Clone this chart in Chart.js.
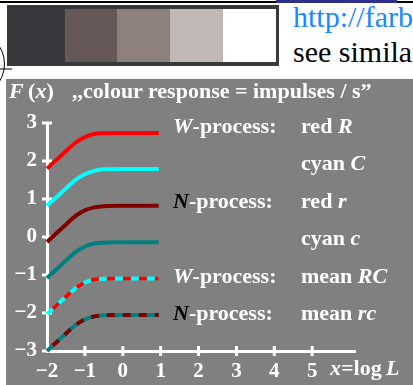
<!DOCTYPE html>
<html>
<head>
<meta charset="utf-8">
<script src="https://cdn.jsdelivr.net/npm/chart.js@4"></script>
<style>
  body { margin: 0; width: 413px; height: 385px; overflow: hidden; background: #fff; position: relative; font-family: "Liberation Serif", "DejaVu Serif", serif; }
  .abs { position: absolute; }
  #panel { left: 6px; top: 79px; width: 407px; height: 306px; background: #808080; }
  #chart { left: 0; top: 0; }
  .lbl { position: absolute; color: #fff; font-weight: bold; font-size: 22px; line-height: 22px; white-space: nowrap; }
  .blk { color: #000; }
</style>
</head>
<body>
<!-- top rules -->
<div class="abs" style="left:0;top:1px;width:413px;height:2px;background:#000"></div>
<div class="abs" style="left:276px;top:0;width:121px;height:3px;background:#2e2e8c"></div>

<!-- grey swatch strip -->
<div class="abs" style="left:7px;top:5px;width:272px;height:61px;background:#39383d"></div>
<div class="abs" style="left:65px;top:9px;width:52px;height:53px;background:#655856"></div>
<div class="abs" style="left:117px;top:9px;width:53px;height:53px;background:#8d807c"></div>
<div class="abs" style="left:170px;top:9px;width:53px;height:53px;background:#c1b8b5"></div>
<div class="abs" style="left:223px;top:9px;width:53px;height:53px;background:#ffffff"></div>

<div class="abs" style="left:293px;top:2px;font-size:30px;line-height:30px;color:#1a88ff;white-space:nowrap">http://farbe.li.tu-berlin.de</div>
<div class="abs" style="left:293px;top:37px;font-size:30px;line-height:30px;color:#000;white-space:nowrap">see similar files</div>

<svg class="abs" style="left:0;top:40px" width="20" height="50">
  <circle cx="-29" cy="24" r="33.5" fill="none" stroke="#000" stroke-width="1"/>
  <line x1="0" y1="29" x2="12" y2="29" stroke="#000" stroke-width="1"/>
</svg>

<div id="panel" class="abs"></div>
<canvas id="chart" class="abs" width="413" height="385"></canvas>

<div class="lbl" style="left:9px;top:79.6px"><i>F</i>&thinsp;(<i>x</i>)</div>
<div class="lbl" style="left:72px;top:79.6px">,,colour response = impulses / s”</div>

<div class="lbl" style="left:173px;top:114.6px"><i>W</i>-process:</div>
<div class="lbl" style="left:301px;top:114.6px">red <i>R</i></div>
<div class="lbl" style="left:301px;top:152px">cyan <i>C</i></div>
<div class="lbl" style="left:173px;top:189.6px"><i class="blk">N</i>-process:</div>
<div class="lbl" style="left:301px;top:189.6px">red <i>r</i></div>
<div class="lbl" style="left:301px;top:227px">cyan <i>c</i></div>
<div class="lbl" style="left:173px;top:264.6px"><i>W</i>-process:</div>
<div class="lbl" style="left:301px;top:264.6px">mean <i>RC</i></div>
<div class="lbl" style="left:173px;top:302px"><i class="blk">N</i>-process:</div>
<div class="lbl" style="left:301px;top:302px">mean <i>rc</i></div>

<div class="lbl" style="left:330px;top:356.6px"><i>x</i>=log&thinsp;<i>L</i></div>

<script>
// x = log L, sample positions
const xValues = [-2, -1.75, -1.5, -1.25, -1, -0.75, -0.5, 0, 0.5, 0.95];

// F(x) for each process
const redR   = [1.80, 2.03, 2.26, 2.48, 2.63, 2.71, 2.73, 2.74, 2.74, 2.74];
const cyanC  = [0.82, 1.05, 1.28, 1.50, 1.65, 1.74, 1.78, 1.79, 1.79, 1.79];
const redr   = [-0.13, 0.10, 0.33, 0.55, 0.70, 0.78, 0.81, 0.82, 0.82, 0.82];
const cyanc  = [-1.08, -0.85, -0.62, -0.40, -0.25, -0.17, -0.15, -0.14, -0.14, -0.14];
const meanRC = [-2.03, -1.80, -1.57, -1.35, -1.20, -1.12, -1.10, -1.09, -1.09, -1.09];
const meanrc = [-3.00, -2.77, -2.54, -2.32, -2.17, -2.09, -2.06, -2.05, -2.05, -2.05];

const xTicks = [-2, -1, 0, 1, 2, 3, 4, 5];
const yTicks = [-3, -2, -1, 0, 1, 2, 3];

function pts(vals) {
    return xValues.map((x, i) => ({ x: x, y: vals[i] }));
}

function line(vals, color, dash) {
    return {
        data: pts(vals),
        borderColor: color,
        borderWidth: 4,
        borderDash: dash ? [8, 8] : [],
        borderDashOffset: dash ? 8 : 0,
        pointRadius: 0,
        cubicInterpolationMode: 'monotone',
        fill: false,
        clip: false
    };
}

// white cross ticks on both axes
const crossTicks = {
    id: 'crossTicks',
    beforeDatasetsDraw(chart) {
        const { ctx, scales: { x, y } } = chart;
        const ax = x.getPixelForValue(-2);
        const ay = y.getPixelForValue(-3);
        ctx.save();
        ctx.strokeStyle = '#fff';
        ctx.lineWidth = 3;
        yTicks.forEach(v => {
            const py = y.getPixelForValue(v);
            ctx.beginPath();
            ctx.moveTo(ax - 5, py);
            ctx.lineTo(ax + 5, py);
            ctx.stroke();
        });
        xTicks.slice(1).forEach(v => {
            const px = x.getPixelForValue(v);
            ctx.beginPath();
            ctx.moveTo(px, ay - 5);
            ctx.lineTo(px, ay + 5);
            ctx.stroke();
        });
        ctx.restore();
    }
};

const tickFont = { family: '"Liberation Serif", serif', size: 21, weight: 'bold' };
const minus = v => String(v).replace('-', '\u2212');

new Chart(document.getElementById('chart').getContext('2d'), {
    type: 'line',
    data: {
        datasets: [
            line(meanrc, '#800000', true),
            line(meanrc, '#008080', false),
            line(meanRC, '#ff0000', true),
            line(meanRC, '#00ffff', false),
            line(redR, '#ff0000', false),
            line(cyanC, '#00ffff', false),
            line(redr, '#800000', false),
            line(cyanc, '#008080', false)
        ]
    },
    options: {
        responsive: false,
        animation: false,
        layout: { padding: { left: 0, top: 123, right: 58, bottom: 0 } },
        plugins: { legend: { display: false }, tooltip: { enabled: false } },
        scales: {
            x: {
                type: 'linear',
                min: -2,
                max: 6.13,
                afterBuildTicks: s => { s.ticks = xTicks.map(v => ({ value: v })); },
                afterFit: s => { s.height = 34; },
                ticks: { color: '#fff', font: tickFont, padding: 8, maxRotation: 0, autoSkip: false, callback: minus },
                grid: { display: false, drawTicks: false },
                border: { color: '#fff', width: 3 }
            },
            y: {
                min: -3,
                max: 3,
                afterBuildTicks: s => { s.ticks = yTicks.map(v => ({ value: v })); },
                afterFit: s => { s.width = 47; },
                ticks: { color: '#fff', font: tickFont, padding: 10, callback: minus },
                grid: { display: false, drawTicks: false },
                border: { color: '#fff', width: 3 }
            }
        }
    },
    plugins: [crossTicks]
});
</script>
</body>
</html>
